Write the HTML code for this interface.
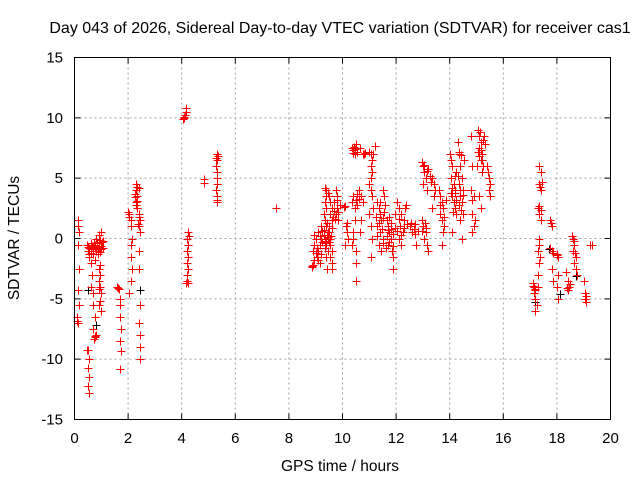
<!DOCTYPE html>
<html><head><meta charset="utf-8"><style>
body{margin:0;background:#fff;}
svg{display:block;font-family:"Liberation Sans",sans-serif;}
</style></head><body>
<svg id="chart" width="640" height="480" viewBox="0 0 640 480">
<text x="340" y="33" font-size="16" text-anchor="middle">Day 043 of 2026, Sidereal Day-to-day VTEC variation (SDTVAR) for receiver cas1</text>
<text transform="translate(19,238) rotate(-90)" font-size="15.5" text-anchor="middle">SDTVAR / TECUs</text>
<text x="340" y="471" font-size="15.5" text-anchor="middle">GPS time / hours</text>
<g id="grid"></g>
<g id="ticks"></g>
<g id="marks-black"></g>
<g id="marks"></g>
<rect x="74.5" y="57.5" width="536" height="362" fill="none" stroke="#000" stroke-width="1"/>
</svg>
<script>
const xTicks=[0,2,4,6,8,10,12,14,16,18,20];
const yTicks=[-15,-10,-5,0,5,10,15];
const blackPoints=[[0.5,-4.3],[0.8,-7.2],[17.2,-5.3],[17.7,-0.9],[18.7,-3.1],[2.45,-4.3],[18.1,-4.6]];
const points=[
[0.12,1.5],[0.12,1.0],[0.15,0.5],[0.12,-0.5],[0.15,-2.5],[0.12,-4.3],[0.15,-5.5],[0.1,-6.5],[0.12,-7],[0.1,-6.8],
[0.5,-9.2],[0.45,-9.2],[0.55,-10],[0.5,-10.7],[0.55,-11.5],[0.5,-12.2],[0.55,-12.8],
[0.45,-0.5],[0.5,-1],[0.55,-0.8],[0.6,-1.2],[0.65,-0.6],[0.7,-0.9],[0.75,-0.5],[0.8,-1],[0.85,-0.3],[0.9,-0.7],[0.95,-1.1],[1.0,-0.6],[1.05,-0.2],[0.6,-0.4],[0.7,-1.3],[0.8,0],[0.9,0.3],[1.0,0.5],[1.05,-0.8],[0.75,-1.8],
[0.5,-0.7],[0.55,-1.3],[0.62,-0.9],[0.68,-0.7],[0.72,-0.4],[0.78,-0.8],[0.83,-0.6],[0.88,-1.0],[0.92,-0.4],[0.98,-0.9],[1.02,-0.3],[0.86,-1.3],[0.96,-0.1],
[0.55,-1.5],[0.6,-2],[0.65,-3],[0.6,-4],[0.7,-4.5],[0.7,-5.5],[0.75,-6.5],[0.7,-7.5],[0.78,-8.2],[0.8,-8.0],[0.72,-8.3],[0.75,-8.1],
[0.9,-2.5],[0.95,-3],[0.9,-3.5],[0.95,-4],[1.0,-4.5],[0.95,-5.2],[0.9,-5.5],[1.0,-6],[0.92,-4.2],[0.97,-2.2],
[1.6,-4],[1.65,-4.2],[1.62,-4.1],[1.7,-5],[1.7,-5.5],[1.7,-6.5],[1.72,-7.5],[1.7,-8.5],[1.72,-9.3],[1.7,-10.8],
[2.0,2.2],[2.05,1.8],[2.1,1.5],[2.1,1.0],[2.15,0],[2.12,-0.5],[2.1,-1.5],[2.15,-2.5],[2.1,-3.5],[2.05,-4.5],[2.02,2.0],
[2.3,4.5],[2.3,4.0],[2.35,3.5],[2.28,3.0],[2.35,2.5],[2.4,4.2],[2.25,3.7],[2.32,4.3],[2.27,3.4],[2.33,3.1],[2.3,2.8],
[2.4,2.0],[2.45,1.5],[2.4,1.0],[2.45,0.5],[2.4,-1],[2.4,-2.5],[2.45,-5.5],[2.42,-7],[2.45,-8],[2.45,-9],[2.45,-10],[2.42,1.8],[2.38,1.2],
[4.1,10],[4.12,10.2],[4.15,10.5],[4.15,10.8],[4.05,9.9],[4.08,10.1],
[4.25,0.5],[4.2,0],[4.22,-0.5],[4.2,-1],[4.25,-1.5],[4.2,-2],[4.22,-2.5],[4.18,-3],[4.2,-3.5],[4.22,-3.7],[4.15,-3.7],[4.27,0.2],
[4.85,4.9],[4.85,4.6],
[5.3,7],[5.32,6.5],[5.28,6],[5.3,5.5],[5.33,5],[5.3,4.5],[5.28,4],[5.32,3.5],[5.3,3],[5.35,6.8],[5.27,6.7],[5.3,3.2],
[7.5,2.5],
[8.85,-2.4],[8.9,-2.2],[8.95,-1.8],[8.9,-1.0],[8.95,-0.5],[9.0,0],[8.95,0.3],[8.88,-2.3],
[9.05,-1.5],[9.1,-1],[9.15,-0.5],[9.2,0],[9.1,0.5],[9.2,1],[9.15,-2],[9.25,-0.3],[9.05,-0.8],[9.2,-1.3],[9.0,-1.2],[9.1,-1.8],[9.25,0.6],[9.15,0.2],
[9.35,4.2],[9.4,4],[9.45,3.8],[9.4,3.5],[9.35,3],[9.4,2.5],[9.3,2],[9.35,1.5],[9.4,1],[9.45,0.5],[9.35,0],[9.4,-0.5],[9.45,-1],[9.4,-1.5],[9.42,-2.5],[9.3,0.3],[9.38,-0.2],[9.45,0.1],[9.32,0.7],[9.42,0.3],[9.48,-0.3],[9.36,-0.8],[9.44,1.3],[9.33,-0.4],
[9.5,3.5],[9.55,3],[9.6,2.5],[9.55,2],[9.6,1.5],[9.5,1],[9.55,0],[9.6,-1],[9.55,-1.5],[9.6,-2],[9.62,-2.5],[9.5,0.5],[9.58,0.2],[9.52,-0.5],[9.62,0.9],[9.66,1.8],[9.68,2.3],
[9.75,4],[9.8,3.5],[9.7,3],[9.8,2.5],[9.75,2],[9.85,1.5],[9.8,3.2],[9.9,2.8],[9.72,1.6],[9.85,2.2],
[10.1,2.7],[10.12,1],[10.15,0.5],[10.1,-0.5],[10.2,0],[10.05,2.6],[10.15,1.3],
[10.35,7.5],[10.4,7.3],[10.45,7],[10.5,7.8],[10.55,7.2],[10.42,7.6],[10.48,7.4],[10.38,7.1],[10.4,3.5],[10.35,3],[10.45,2.5],[10.4,0],[10.5,-1],[10.5,-2],[10.5,-3.5],[10.35,-0.5],[10.4,0.5],[10.45,1.5],[10.55,3.7],[10.5,3.2],[10.55,2.8],
[10.65,7.5],[10.75,7],[10.7,3.5],[10.6,4],[10.75,3],[10.7,1.5],[10.65,0.5],[10.85,7.1],[10.8,7.0],[10.6,3.3],
[11.0,7.2],[11.05,7],[11.1,6.5],[11.05,6],[11.1,5.5],[11.0,4.5],[11.05,4],[11.1,3.5],[11.0,2],[11.05,1],[11.1,0],[11.05,-1.5],[11.2,7.7],[11.15,7.0],[11.08,5.0],[11.12,2.5],
[11.3,3],[11.35,2.5],[11.4,2],[11.45,1.5],[11.3,1],[11.4,0.5],[11.5,0],[11.35,-0.5],[11.45,-1],[11.5,1.7],[11.5,4],[11.55,3.5],[11.4,3],[11.55,2.2],[11.3,0.2],[11.25,1.8],[11.48,0.8],[11.38,1.3],[11.52,-0.4],
[11.65,1.5],[11.7,1],[11.75,0.5],[11.8,0],[11.7,-0.5],[11.85,-1],[11.9,-1.5],[11.9,-2.5],[11.95,2.0],[11.8,0.8],[11.65,0.2],[11.9,0.4],[11.75,-0.3],[11.6,2.8],[11.68,0.7],[11.82,1.3],[11.88,-0.6],[11.72,1.8],[11.95,0.9],[11.62,-0.8],
[12.05,3],[12.1,2.5],[12.2,2],[12.15,1],[12.25,0.5],[12.1,0],[12.2,-0.5],[12.3,1.5],[12.35,2.5],[12.4,1.2],[12.05,0.6],[12.12,1.6],[12.28,0.9],[12.18,0.3],[12.38,2.8],
[12.5,1],[12.6,0.5],[12.65,0.8],[12.7,1.2],[12.75,-0.5],[12.8,0.6],[12.55,1.3],[12.72,0.4],
[12.95,6.3],[13.0,6],[13.05,5.5],[13.1,5],[13.0,4.5],[13.15,4],[13.2,5.8],[13.25,5.2],[12.95,1.5],[13.0,1],[13.1,0.5],[13.05,0],[13.15,-0.5],[13.2,-1],[13.1,0.9],[13.05,6.1],[13.15,5.6],[12.98,0.6],[13.08,1.3],
[13.35,5],[13.4,4.5],[13.45,4],[13.4,3.5],[13.35,2.5],[13.3,4.7],
[13.6,4],[13.65,3.5],[13.7,3],[13.75,2.5],[13.65,2],[13.7,1.5],[13.8,1],[13.75,0.5],[13.7,-0.5],[13.85,3.2],[13.62,2.8],[13.78,1.8],
[14.0,7],[14.05,6.5],[14.1,6],[14.05,5],[14.15,4.5],[14.2,4],[14.1,3.5],[14.15,3],[14.2,2.5],[14.25,2],[14.1,0.5],[14.25,5.5],[14.2,3.8],[14.08,4.2],[14.18,5.2],[14.12,2.2],[14.22,3.2],[14.05,3.8],
[14.3,8],[14.35,7],[14.4,6],[14.45,5],[14.35,4.5],[14.5,4],[14.4,3.5],[14.45,3],[14.5,2],[14.4,1.5],[14.45,0],[14.55,6.5],[14.3,5.2],[14.38,4.0],[14.48,3.6],[14.33,2.8],[14.42,2.4],[14.35,7.2],[14.42,6.9],
[14.8,8.5],[14.85,6],[14.8,4],[14.9,3.5],[14.85,2],[14.95,1.5],[14.9,1],[14.85,0.5],[14.82,3.2],
[15.05,9],[15.1,8.5],[15.15,8],[15.1,7.5],[15.2,7],[15.15,6.5],[15.25,6],[15.2,5.5],[15.05,7.2],[15.25,8.2],[15.1,3.5],[15.15,2.5],[15.3,7.8],[15.12,8.8],[15.18,7.3],[15.08,6.8],[15.22,6.5],[15.02,6.0],[15.28,8.5],
[15.4,6],[15.45,5],[15.5,4.5],[15.45,4],[15.5,3.5],[15.42,5.5],
[17.1,-3.7],[17.15,-4],[17.2,-4.3],[17.15,-4.5],[17.2,-5],[17.25,-5.5],[17.2,-6],[17.12,-3.9],[17.18,-4.2],
[17.35,6],[17.4,5.5],[17.35,4.5],[17.4,4],[17.3,2.5],[17.35,2],[17.4,1.5],[17.35,0],[17.3,-1],[17.35,-2],[17.3,-3],[17.3,-4],[17.45,4.7],[17.4,2.4],[17.32,2.7],[17.38,4.3],[17.33,-0.5],[17.37,-1.5],
[17.75,1.5],[17.8,1],[17.75,-0.8],[17.8,-1.0],[17.85,-1.2],[17.8,-2.5],[17.85,-3.5],[17.78,1.3],
[18.0,-1.3],[18.05,-1.5],[18.05,-3],[18.0,-4],[18.05,-5],[18.02,-1.4],
[18.35,-2.8],[18.4,-3.5],[18.45,-4],[18.4,-4.3],[18.5,-3.8],[18.38,-4.1],
[18.55,0.2],[18.6,0],[18.65,-0.5],[18.6,-1],[18.7,-1.5],[18.65,-2],[18.7,-2.5],[18.75,-3],[18.62,-0.2],[18.68,-1.2],
[19.0,-3.5],[19.05,-4.5],[19.05,-5],[19.1,-5.3],[19.08,-4.8],
[19.3,-0.5],[19.25,-0.5]
];
const NS='http://www.w3.org/2000/svg';
const X0=74.5,X1=610.5,Y0=419.5,Y1=57.5;
function sx(v){return X0+(v-0)/(20-0)*(X1-X0);}
function sy(v){return Y0-(v+15)/30*(Y0-Y1);}
const grid=document.getElementById('grid'),ticks=document.getElementById('ticks');
function mk(tag,attrs,parent){const e=document.createElementNS(NS,tag);for(const k in attrs)e.setAttribute(k,attrs[k]);parent.appendChild(e);return e;}
xTicks.forEach(t=>{
 const x=sx(t);
 if(t>0&&t<20){const g=mk('line',{x1:x,y1:Y0,x2:x,y2:Y1,stroke:'#a0a0a0','stroke-dasharray':'2,3'},grid);
 
 }
 const tk=mk('path',{d:`M${x},${Y0}v-6M${x},${Y1}v6`,stroke:'#000'},ticks);
 
 
 const l=mk('text',{x:x,y:443,'font-size':15,'text-anchor':'middle'},ticks);l.textContent=t;
 
 
});
yTicks.forEach(t=>{
 const y=sy(t);
 if(t>-15&&t<15){const g=mk('line',{x1:X0,y1:y,x2:X1,y2:y,stroke:'#a0a0a0','stroke-dasharray':'2,3'},grid);
 
 }
 const tk=mk('path',{d:`M${X0},${y}h6M${X1},${y}h-6`,stroke:'#000'},ticks);
 
 
 const l=mk('text',{x:63,y:y+5,'font-size':15,'text-anchor':'end'},ticks);l.textContent=t;
 
 
});
function plus(p,parent,col){
 const x=Math.round(sx(p[0]))+0.5,y=Math.round(sy(p[1]))+0.5;
 const e=mk('path',{d:`M${x-4},${y}h8M${x},${y-4}v8`,stroke:col,'stroke-width':1},parent);
 
 
}
blackPoints.forEach(p=>plus(p,document.getElementById('marks-black'),'#000'));
points.forEach(p=>plus(p,document.getElementById('marks'),'#f00'));
</script>
</body></html>
